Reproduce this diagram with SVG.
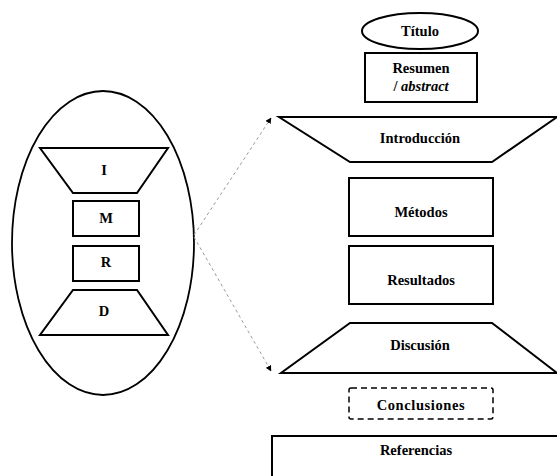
<svg xmlns="http://www.w3.org/2000/svg" width="557" height="476" viewBox="0 0 557 476">
<defs>
<marker id="arr" viewBox="0 0 10 10" refX="9" refY="5" markerWidth="6" markerHeight="6" orient="auto" markerUnits="userSpaceOnUse">
<path d="M0,0 L10,5 L0,10 z" fill="#000"/>
</marker>
<style>
.s{fill:#fff;stroke:#000;stroke-width:2}
.t{font-family:"Liberation Serif","Times New Roman",serif;font-weight:bold;font-size:14.5px;text-anchor:middle;fill:#000}
.c{fill:none;stroke:#999;stroke-width:1;stroke-dasharray:3,3}
</style>
</defs>
<rect width="557" height="476" fill="#fff"/>
<g id="imrd">
<ellipse cx="103" cy="243" rx="91" ry="152" fill="#fff" stroke="#000" stroke-width="1.8"/>
</g>
<g id="i-small"><polygon class="s" points="40,148 168,148 137,193 73,193"/><text class="t" x="104" y="175">I</text></g>
<g id="m-small"><rect class="s" x="73" y="201" width="66" height="35"/><text class="t" x="106" y="223">M</text></g>
<g id="r-small"><rect class="s" x="73" y="246" width="66" height="35"/><text class="t" x="106" y="267">R</text></g>
<g id="d-small"><polygon class="s" points="73,290 137,290 168,335 40,335"/><text class="t" x="104" y="316">D</text></g>
<g id="connectors">
<line class="c" x1="194" y1="235" x2="271" y2="118" marker-end="url(#arr)"/>
<line class="c" x1="194" y1="237" x2="271" y2="371" marker-end="url(#arr)"/>
</g>
<g id="titulo"><ellipse cx="420" cy="31" rx="58" ry="18" class="s"/><text class="t" x="420" y="36">Título</text></g>
<g id="resumen"><rect class="s" x="365" y="53" width="112" height="49"/><text class="t" x="421" y="73">Resumen</text><text class="t" x="421" y="91"><tspan>/ </tspan><tspan font-style="italic">abstract</tspan></text></g>
<g id="introduccion"><polygon class="s" points="279,117 557,117 492,162 350,162"/><text class="t" x="420" y="143">Introducción</text></g>
<g id="metodos"><rect class="s" x="349" y="178" width="144" height="58"/><text class="t" x="421" y="217">Métodos</text></g>
<g id="resultados"><rect class="s" x="349" y="246" width="144" height="58"/><text class="t" x="421" y="285">Resultados</text></g>
<g id="discusion"><polygon class="s" points="350,323 492,323 557,373 281,373"/><text class="t" x="420" y="350">Discusión</text></g>
<g id="conclusiones"><rect x="349" y="388" width="144" height="31" rx="2" fill="#fff" stroke="#000" stroke-width="1.5" stroke-dasharray="6,4"/><text class="t" x="421" y="410" letter-spacing="0.6">Conclusiones</text></g>
<g id="referencias"><rect class="s" x="272" y="436" width="300" height="60"/><text class="t" x="416" y="455">Referencias</text></g>
</svg>
